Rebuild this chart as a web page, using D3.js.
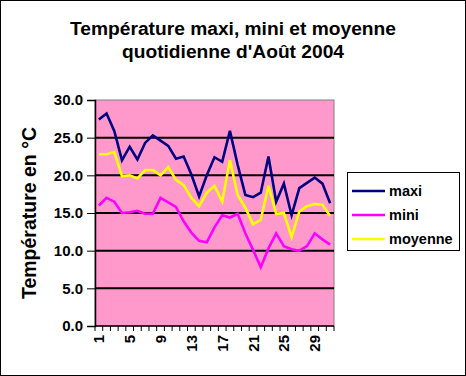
<!DOCTYPE html>
<html>
<head>
<meta charset="utf-8">
<script src="https://cdn.jsdelivr.net/npm/d3@7"></script>
<style>
  body { margin: 0; background: #fff; }
  svg { display: block; font-family: "Liberation Sans", Arial, sans-serif; }
</style>
</head>
<body>
<div id="chart"></div>
<script>
// daily temperatures, August 2004
const days = d3.range(1, 32);
const maxi = [27.4, 28.2, 25.9, 22.0, 23.8, 22.1, 24.3, 25.3, 24.6, 23.9,
  22.2, 22.5, 20.1, 17.2, 20.0, 22.4, 21.8, 25.9, 21.4, 17.4,
  17.1, 17.7, 22.5, 16.5, 18.9, 14.7, 18.3, 19.0, 19.7, 18.9, 16.3];
const mini = [16.0, 17.0, 16.5, 15.0, 15.1, 15.3, 14.9, 14.9, 17.0, 16.4,
  15.8, 13.9, 12.4, 11.3, 11.1, 13.1, 14.7, 14.4, 14.9, 12.3,
  10.1, 7.8, 10.3, 12.3, 10.6, 10.2, 10.0, 10.6, 12.3, 11.5, 10.8];
const moyenne = [22.8, 22.8, 23.1, 19.9, 20.0, 19.6, 20.7, 20.7, 20.0, 21.1,
  19.4, 18.7, 17.0, 15.9, 17.7, 18.6, 16.5, 22.0, 17.4, 15.7,
  13.5, 14.1, 18.6, 14.9, 15.0, 11.8, 15.2, 15.9, 16.2, 16.1, 14.6];
const yTicks = [0, 5, 10, 15, 20, 25, 30];
const xLabels = [1, 5, 9, 13, 17, 21, 25, 29];

const series = [
  {name: 'maxi', values: maxi, color: '#000080'},
  {name: 'mini', values: mini, color: '#FF00FF'},
  {name: 'moyenne', values: moyenne, color: '#FFFF00'}
];

const W = 466, H = 376;
const plot = {left: 95, right: 334, top: 100, bottom: 326};

const svg = d3.select('#chart').append('svg')
  .attr('width', W)
  .attr('height', H);

svg.append('rect')
  .attr('x', 0.5).attr('y', 0.5)
  .attr('width', W - 1).attr('height', H - 1)
  .attr('fill', '#fff')
  .attr('stroke', '#000');

// title
const title = svg.append('text')
  .attr('text-anchor', 'middle')
  .attr('font-size', 19.2)
  .attr('font-weight', 'bold');
title.append('tspan').attr('x', 233).attr('y', 35).text('Température maxi, mini et moyenne');
title.append('tspan').attr('x', 233).attr('y', 58).text("quotidienne d'Août 2004");

const x = d3.scaleBand()
  .domain(days)
  .range([plot.left, plot.right]);

const y = d3.scaleLinear()
  .domain([0, 30])
  .range([plot.bottom, plot.top]);

// plot area
svg.append('rect')
  .attr('x', plot.left).attr('y', plot.top)
  .attr('width', plot.right - plot.left)
  .attr('height', plot.bottom - plot.top)
  .attr('fill', '#FF99CC')
  .attr('stroke', '#808080')
  .attr('stroke-width', 1);

// gridlines
svg.append('g')
  .selectAll('line')
  .data(yTicks.filter(d => d > 0 && d < 30))
  .join('line')
  .attr('x1', plot.left).attr('x2', plot.right)
  .attr('y1', d => y(d)).attr('y2', d => y(d))
  .attr('stroke', '#000')
  .attr('stroke-width', 2);

// y axis
const yAxis = svg.append('g')
  .attr('transform', `translate(${plot.left},0)`)
  .call(d3.axisLeft(y).tickValues(yTicks).tickFormat(d3.format('.1f')).tickSize(8).tickPadding(4));
yAxis.select('.domain').attr('stroke', '#000').attr('stroke-width', 1.5);
yAxis.selectAll('.tick line').attr('stroke', '#000');
yAxis.selectAll('text')
  .attr('font-size', 15)
  .attr('font-weight', 'bold')
  .attr('font-family', '"Liberation Sans", Arial, sans-serif')
  .attr('fill', '#000');

// x axis: ticks at category boundaries
const bounds = days.map(d => x(d)).concat([plot.right]);
svg.append('g')
  .selectAll('line')
  .data(bounds)
  .join('line')
  .attr('x1', d => d).attr('x2', d => d)
  .attr('y1', plot.bottom).attr('y2', plot.bottom + 5)
  .attr('stroke', '#000');
svg.append('line')
  .attr('x1', plot.left).attr('x2', plot.right)
  .attr('y1', plot.bottom).attr('y2', plot.bottom)
  .attr('stroke', '#000')
  .attr('stroke-width', 1.5);

svg.append('g')
  .selectAll('text')
  .data(xLabels)
  .join('text')
  .attr('transform', d => `translate(${x(d) + x.bandwidth() / 2 + 5.5},${plot.bottom + 9}) rotate(-90)`)
  .attr('text-anchor', 'end')
  .attr('font-size', 15)
  .attr('font-weight', 'bold')
  .text(d => d);

// y axis title
svg.append('text')
  .attr('transform', `translate(36,${(plot.top + plot.bottom) / 2}) rotate(-90)`)
  .attr('text-anchor', 'middle')
  .attr('font-size', 19.5)
  .attr('font-weight', 'bold')
  .text('Température en °C');

// lines
const line = d3.line()
  .x((d, i) => x(days[i]) + x.bandwidth() / 2)
  .y(d => y(d));

svg.append('g')
  .selectAll('path')
  .data(series)
  .join('path')
  .attr('d', s => line(s.values))
  .attr('fill', 'none')
  .attr('stroke', s => s.color)
  .attr('stroke-width', 2.6)
  .attr('stroke-linejoin', 'miter');

// legend
const legend = svg.append('g').attr('transform', 'translate(347,172)');
legend.append('rect')
  .attr('x', 0.5).attr('y', 0.5)
  .attr('width', 112).attr('height', 78)
  .attr('fill', '#fff')
  .attr('stroke', '#000');
const item = legend.selectAll('g.item')
  .data(series)
  .join('g')
  .attr('class', 'item')
  .attr('transform', (d, i) => `translate(0,${19 + i * 24})`);
item.append('line')
  .attr('x1', 5).attr('x2', 38)
  .attr('stroke', d => d.color)
  .attr('stroke-width', 2.5);
item.append('text')
  .attr('x', 42).attr('y', 5)
  .attr('font-size', 14.5)
  .attr('font-weight', 'bold')
  .text(d => d.name);
</script>
</body>
</html>
